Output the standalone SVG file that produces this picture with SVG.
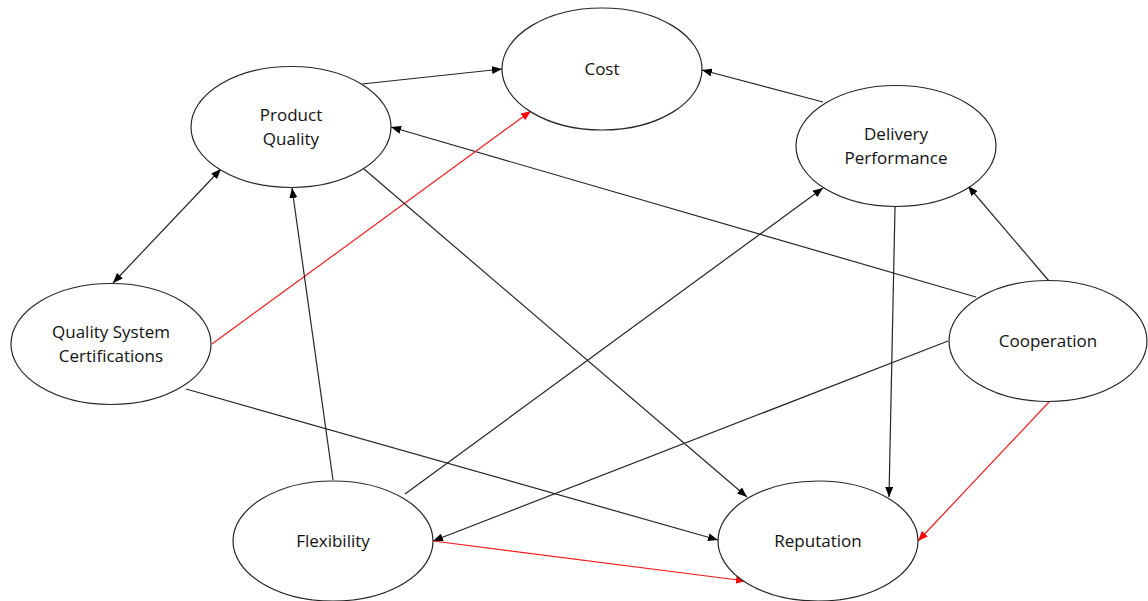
<svg xmlns="http://www.w3.org/2000/svg" width="1148" height="601" viewBox="0 0 1148 601">
<style>
.n{fill:#fff;stroke:#262626;stroke-width:1.2}
.t{font-family:"Open Sans","Liberation Sans",sans-serif;font-size:17px;fill:#111;text-anchor:middle}
.e{fill:none;stroke:#262626;stroke-width:1.2}
.r{fill:none;stroke:#f21d1d;stroke-width:1.2}
</style>
<defs>
<marker id="a" viewBox="0 0 10 8" refX="10" refY="4" markerWidth="10" markerHeight="8" markerUnits="userSpaceOnUse" orient="auto-start-reverse"><path d="M0,0L10,4L0,8z" fill="#000"/></marker>
<marker id="ar" viewBox="0 0 10 8" refX="10" refY="4" markerWidth="10" markerHeight="8" markerUnits="userSpaceOnUse" orient="auto"><path d="M0,0L10,4L0,8z" fill="#f00"/></marker>
</defs>
<rect width="1148" height="601" fill="#fff"/>
<g id="connectors">
<line class="e" x1="362" y1="84" x2="502" y2="69" marker-end="url(#a)"/>
<line class="e" x1="823" y1="102" x2="702" y2="70" marker-end="url(#a)"/>
<line class="e" x1="976" y1="297" x2="391" y2="127" marker-end="url(#a)"/>
<line class="e" x1="113" y1="283" x2="221" y2="169" marker-start="url(#a)" marker-end="url(#a)"/>
<line class="r" x1="212" y1="344" x2="531" y2="111" marker-end="url(#ar)"/>
<line class="e" x1="333" y1="480" x2="292" y2="188" marker-end="url(#a)"/>
<line class="e" x1="364" y1="169" x2="747" y2="497" marker-end="url(#a)"/>
<line class="e" x1="405" y1="494" x2="823" y2="188" marker-end="url(#a)"/>
<line class="e" x1="895" y1="207" x2="889" y2="497" marker-end="url(#a)"/>
<line class="e" x1="1049" y1="281" x2="968" y2="186" marker-end="url(#a)"/>
<line class="e" x1="948" y1="341" x2="433" y2="541" marker-end="url(#a)"/>
<line class="e" x1="186" y1="389" x2="718" y2="540" marker-end="url(#a)"/>
<line class="r" x1="433" y1="541" x2="746" y2="581" marker-end="url(#ar)"/>
<line class="r" x1="1049" y1="402" x2="918" y2="541" marker-end="url(#ar)"/>
</g>
<g id="cost"><ellipse class="n" cx="602" cy="69" rx="100" ry="61"/><text class="t" x="602" y="75">Cost</text></g>
<g id="product-quality"><ellipse class="n" cx="291" cy="127" rx="100" ry="60.5"/><text class="t" x="291" y="121">Product</text><text class="t" x="291" y="145">Quality</text></g>
<g id="delivery-performance"><ellipse class="n" cx="896" cy="146" rx="100" ry="60.5"/><text class="t" x="896" y="140">Delivery</text><text class="t" x="896" y="164">Performance</text></g>
<g id="quality-system-certifications"><ellipse class="n" cx="111" cy="344" rx="100" ry="60.5"/><text class="t" x="111" y="338">Quality System</text><text class="t" x="111" y="362">Certifications</text></g>
<g id="cooperation"><ellipse class="n" cx="1048" cy="341" rx="99" ry="60.5"/><text class="t" x="1048" y="347">Cooperation</text></g>
<g id="flexibility"><ellipse class="n" cx="333" cy="541" rx="100" ry="60"/><text class="t" x="333" y="547">Flexibility</text></g>
<g id="reputation"><ellipse class="n" cx="818" cy="541" rx="100" ry="60"/><text class="t" x="818" y="547">Reputation</text></g>
</svg>
